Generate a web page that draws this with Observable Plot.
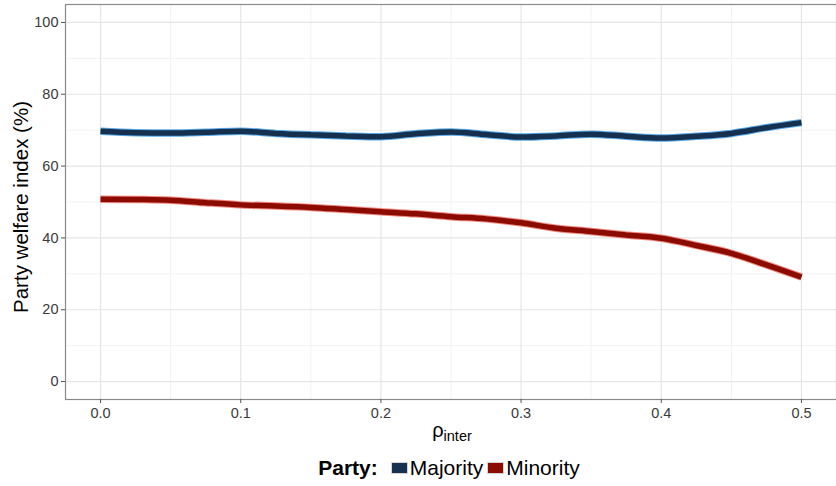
<!DOCTYPE html>
<html>
<head>
<meta charset="utf-8">
<script src="https://cdn.jsdelivr.net/npm/d3@7"></script>
<script src="https://cdn.jsdelivr.net/npm/@observablehq/plot@0.6"></script>
<style>
  body { margin: 0; background: #fff; font-family: "Liberation Sans", Arial, sans-serif; }
  #legend { display: flex; justify-content: center; align-items: center; height: 36px; font-size: 21px; color: #000; padding-left: 66px; }
  #legend .title { font-weight: bold; margin-right: 13px; }
  #legend .key { width: 15px; height: 10px; border: 1.5px solid #d3d3d3; margin-right: 2px; display: inline-block; }
  #legend .item { display: flex; align-items: center; margin-right: 4px; }
</style>
</head>
<body>
<div id="chart"></div>
<div id="legend"></div>
<script>
const rho = [0, 0.025, 0.05, 0.075, 0.1, 0.125, 0.15, 0.175, 0.2, 0.225, 0.25, 0.275, 0.3, 0.325, 0.35, 0.375, 0.4, 0.425, 0.45, 0.475, 0.5];
const majority = [69.7, 69.3, 69.2, 69.4, 69.7, 69.1, 68.7, 68.4, 68.2, 69.0, 69.5, 68.8, 68.1, 68.4, 68.9, 68.3, 67.8, 68.3, 69.1, 70.7, 72.1];
const minority = [50.8, 50.7, 50.5, 49.8, 49.2, 48.9, 48.5, 47.9, 47.3, 46.7, 45.9, 45.3, 44.2, 42.7, 41.8, 40.8, 39.9, 37.9, 35.7, 32.5, 29.1];
const parties = ["Majority", "Minority"];
const darkColors = ["#16304f", "#8c0b00"];
const lightColors = ["#5aaae8", "#f28a80"];
const xTicks = [0, 0.1, 0.2, 0.3, 0.4, 0.5];
const xMinor = [0.05, 0.15, 0.25, 0.35, 0.45];
const yTicks = [0, 20, 40, 60, 80, 100];
const yMinor = [10, 30, 50, 70, 90];

const data = [];
rho.forEach((r, i) => {
  data.push({rho: r, value: majority[i], party: "Majority"});
  data.push({rho: r, value: minority[i], party: "Minority"});
});

const W = 836, H = 450;
const plot = Plot.plot({
  width: W, height: H,
  marginLeft: 65, marginRight: 0, marginTop: 4, marginBottom: 51,
  style: {fontFamily: "Liberation Sans, Arial, sans-serif", background: "#fff"},
  x: {domain: [-0.025, 0.525]},
  y: {domain: [-5, 105]},
  color: {domain: parties, range: darkColors},
  marks: [
    Plot.gridX(xMinor, {stroke: "#f2f2f2", strokeOpacity: 1, strokeWidth: 1}),
    Plot.gridY(yMinor, {stroke: "#f2f2f2", strokeOpacity: 1, strokeWidth: 1}),
    Plot.gridX(xTicks, {stroke: "#e5e5e5", strokeOpacity: 1, strokeWidth: 1.2}),
    Plot.gridY(yTicks, {stroke: "#e5e5e5", strokeOpacity: 1, strokeWidth: 1.2}),
    Plot.line(data, {x: "rho", y: "value", z: "party", stroke: d => lightColors[parties.indexOf(d.party)], strokeWidth: 7.5, strokeLinejoin: "miter", strokeLinecap: "butt", curve: "monotone-x"}),
    Plot.line(data, {x: "rho", y: "value", z: "party", stroke: "party", strokeWidth: 5.5, strokeLinejoin: "miter", strokeLinecap: "butt", curve: "monotone-x"}),
    Plot.frame({stroke: "#8a8a8a", strokeWidth: 1.2}),
    Plot.axisX(xTicks, {tickSize: 4, tickPadding: 4, fontSize: 14.5, color: "#3a3a3a", stroke: "#555", tickFormat: d3.format(".1f"), label: null}),
    Plot.axisY(yTicks, {tickSize: 4, tickPadding: 3, fontSize: 14.5, color: "#3a3a3a", stroke: "#555", label: null})
  ]
});
document.getElementById("chart").appendChild(plot);

const svg = d3.select(plot);
// y-axis title
svg.append("text")
  .attr("transform", `translate(28,207) rotate(-90)`)
  .attr("text-anchor", "middle")
  .attr("font-size", 20.5)
  .attr("fill", "#000")
  .text("Party welfare index (%)");
// x-axis title with subscript
const xt = svg.append("text")
  .attr("x", 452)
  .attr("y", 437)
  .attr("text-anchor", "middle")
  .attr("fill", "#000");
xt.append("tspan").attr("font-size", 20).text("ρ");
xt.append("tspan").attr("font-size", 14.5).attr("dy", 4).text("inter");

// legend
const leg = d3.select("#legend");
leg.append("span").attr("class", "title").text("Party:");
parties.forEach((p, i) => {
  const it = leg.append("span").attr("class", "item");
  it.append("span").attr("class", "key").style("background", darkColors[i]);
  it.append("span").text(p);
});
</script>
</body>
</html>
